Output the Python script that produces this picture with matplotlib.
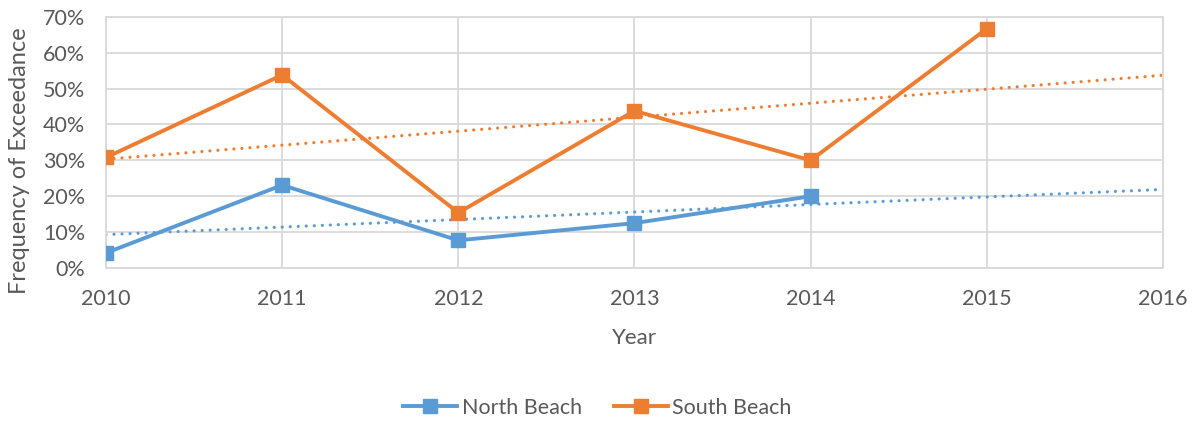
import numpy as np
import matplotlib
matplotlib.use("Agg")
import matplotlib.pyplot as plt
from matplotlib.ticker import PercentFormatter

plt.rcParams['font.family'] = ['Lato', 'DejaVu Sans']

# data (percent)
years_north = [2010, 2011, 2012, 2013, 2014]
north_beach = [4.2, 23.1, 7.7, 12.5, 20.0]
years_south = [2010, 2011, 2012, 2013, 2014, 2015]
south_beach = [30.8, 53.8, 15.4, 43.8, 30.0, 66.7]
year_ticks = [2010, 2011, 2012, 2013, 2014, 2015, 2016]

blue = "#5b9bd5"
orange = "#ed7d31"
grey = "#595959"

fig = plt.figure(figsize=(11.95, 4.22), dpi=100)
ax = fig.add_axes([0.0887, 0.365, 0.8845, 0.595])

# linear trend lines, extended to 2016 like Excel's forecast
for xs, ys, c in [(years_north, north_beach, blue), (years_south, south_beach, orange)]:
    k, b = np.polyfit(xs, ys, 1)
    xt = np.array([year_ticks[0], year_ticks[-1]])
    ax.plot(xt, k * xt + b, color=c, lw=2.3, ls=(0, (0.01, 2.5)), dash_capstyle="round", zorder=2)

ax.plot(years_north, north_beach, color=blue, lw=2.8, marker="s", ms=10, label="North Beach", zorder=3)
ax.plot(years_south, south_beach, color=orange, lw=2.8, marker="s", ms=10, label="South Beach", zorder=3)

ax.set_xlim(2010, 2016)
ax.set_ylim(0, 70)
ax.set_xticks(year_ticks)
ax.set_yticks(range(0, 71, 10))
ax.yaxis.set_major_formatter(PercentFormatter(decimals=0))
ax.grid(True, color="#d9d9d9", lw=1.3)
ax.set_axisbelow(True)
for s in ax.spines.values():
    s.set_color("#d9d9d9")
    s.set_linewidth(1.3)
ax.tick_params(length=0, labelsize=15.5, colors=grey)
ax.tick_params(axis="y", pad=15)
ax.tick_params(axis="x", pad=15)

# axis titles placed like the original
ax.text(0.5, -0.279, "Year", transform=ax.transAxes, fontsize=16, color=grey,
        ha="center", va="center")
fig.text(20 / 1195, 1 - 161 / 422, "Frequency of Exceedance", fontsize=17, color=grey,
         rotation=90, ha="center", va="center")

fig.legend(loc="center", bbox_to_anchor=(0.5, 1 - 408 / 422), ncol=2, frameon=False,
           fontsize=15.5, labelcolor=grey, handlelength=2.5, columnspacing=1.5,
           handletextpad=0.2)

fig.savefig("out.png", dpi=100)
